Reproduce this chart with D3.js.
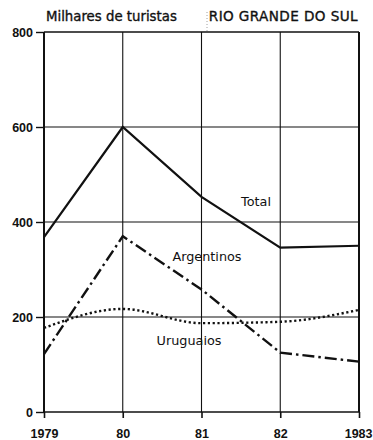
<!DOCTYPE html>
<html><head><meta charset="utf-8">
<script src="https://cdn.jsdelivr.net/npm/d3@7"></script>
<style>body{margin:0;background:#fff}svg{display:block}text{font-family:"DejaVu Sans",sans-serif;fill:#111}</style>
</head><body><svg id="c" width="373" height="440"></svg>
<script>
const years = [1979, 1980, 1981, 1982, 1983];
const yearLabels = ["1979", "80", "81", "82", "1983"];
const yTicks = [0, 200, 400, 600, 800];
const total = [368, 600, 453, 346, 350];
const argentinos = [122, 370, 258, 125, 106];
const uruguaios = [177, 217, 187, 190, 215];
const svg = d3.select("#c");
const x = d3.scaleLinear().domain([1979, 1983]).range([44, 359]);
const y = d3.scaleLinear().domain([0, 800]).range([412, 32]);
const g = svg.append("g");
// grid
g.selectAll(".hg").data(yTicks).join("line").attr("x1", x(1979)).attr("x2", x(1983))
  .attr("y1", d => y(d)).attr("y2", d => y(d)).attr("stroke", "#111").attr("stroke-width", d => d === 0 || d === 800 ? 1.6 : 1.1);
g.selectAll(".vg").data(years).join("line").attr("x1", d => x(d)).attr("x2", d => x(d))
  .attr("y1", y(800)).attr("y2", y(0)).attr("stroke", "#111").attr("stroke-width", (d, i) => i === 0 || i === 4 ? 2 : 1.1);
// axes
const tickFont = "'Liberation Sans', Arial, sans-serif";
const ya = d3.axisLeft(y).tickValues(yTicks).tickSize(8).tickPadding(3);
const yg = svg.append("g").attr("transform", `translate(${x(1979)},0)`).call(ya);
yg.select(".domain").remove();
yg.selectAll("line").attr("stroke", "#111").attr("stroke-width", 1.4);
yg.selectAll("text").style("font-size", "12.5px").style("font-weight", "bold").style("font-family", tickFont);
const xa = d3.axisBottom(x).tickValues(years).tickFormat((d, i) => yearLabels[i]).tickSize(6).tickPadding(11);
const xg = svg.append("g").attr("transform", `translate(0,${y(0)})`).call(xa);
xg.select(".domain").remove();
xg.selectAll("line").attr("stroke", "#111").attr("stroke-width", 1.6);
xg.selectAll("text").style("font-size", "12.5px").style("font-weight", "bold").style("font-family", tickFont);
xg.selectAll(".tick").filter((d, i) => i === years.length - 1).select("text")
  .attr("text-anchor", "end").attr("x", 372 - x(1983));
// lines
const line = d3.line().x((d, i) => x(years[i])).y(d => y(d));
svg.append("path").datum(total).attr("d", line).attr("fill", "none").attr("stroke", "#111").attr("stroke-width", 2.2);
svg.append("path").datum(argentinos).attr("d", line).attr("fill", "none").attr("stroke", "#111").attr("stroke-width", 2.4).attr("stroke-dasharray", "12,4,2.5,4");
const curve = d3.line().x((d, i) => x(years[i])).y(d => y(d)).curve(d3.curveMonotoneX);
svg.append("path").datum(uruguaios).attr("d", curve).attr("fill", "none").attr("stroke", "#111").attr("stroke-width", 2.4).attr("stroke-dasharray", "2.2,2.6");
// labels
const lab = (t, xx, yy, anchor = "middle") => svg.append("text").attr("x", xx).attr("y", yy).attr("text-anchor", anchor).style("font-size", "12.8px").text(t);
lab("Total", 256, 206);
lab("Argentinos", 207, 261);
lab("Uruguaios", 189, 345);
svg.append("text").attr("x", 46).attr("y", 21).style("font-size", "13.3px").attr("stroke", "#111").attr("stroke-width", 0.35).text("Milhares de turistas");
svg.append("text").attr("x", 358).attr("y", 21).attr("text-anchor", "end").style("font-size", "13.6px").style("letter-spacing", "0.4px").attr("stroke", "#111").attr("stroke-width", 0.35).text("RIO GRANDE DO SUL");
svg.append("line").attr("x1", 207).attr("x2", 207).attr("y1", 12).attr("y2", 31).attr("stroke", "#888").attr("stroke-width", 0.8).attr("stroke-dasharray", "1,2");
</script></body></html>
